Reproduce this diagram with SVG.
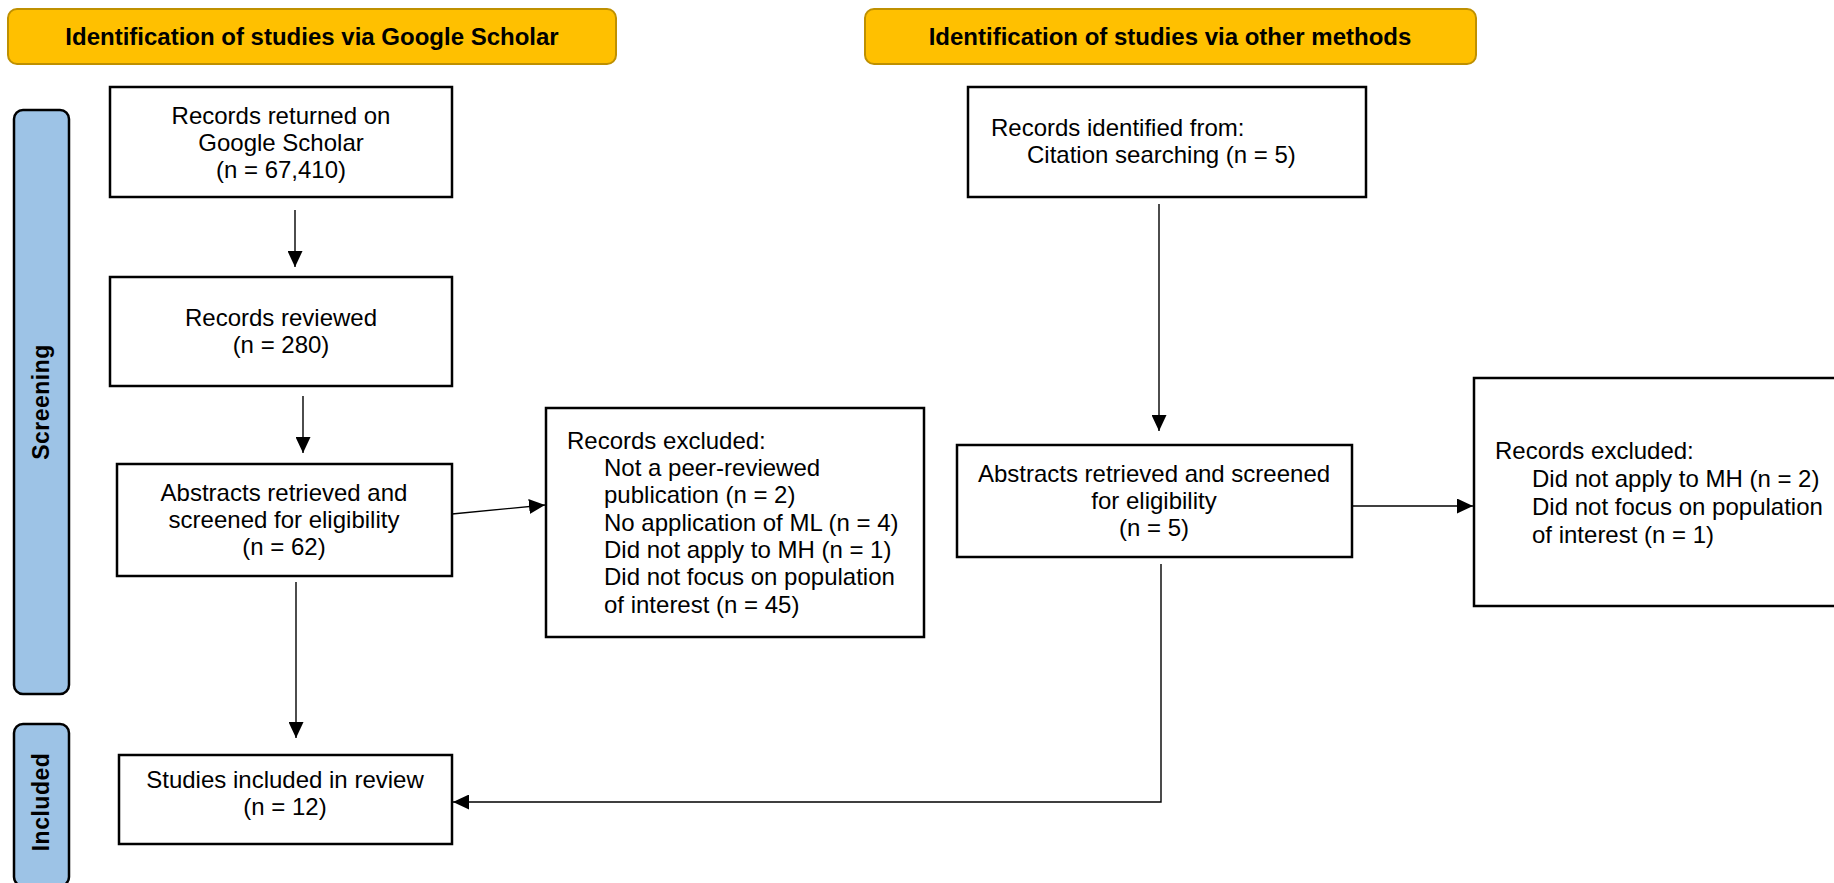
<svg xmlns="http://www.w3.org/2000/svg" width="1834" height="883" viewBox="0 0 1834 883">
<defs>
<marker id="ah" markerUnits="userSpaceOnUse" markerWidth="16" markerHeight="15" refX="16" refY="7.5" orient="auto">
<path d="M0,0 L16,7.5 L0,15 z" fill="#000"/>
</marker>
<style>
.hdr{fill:#FFC000;stroke:#BF9000;stroke-width:2}
.bar{fill:#9DC3E6;stroke:#000;stroke-width:2.5}
.box{fill:#fff;stroke:#000;stroke-width:2.5}
.ht{font-family:"Liberation Sans",Arial,sans-serif;font-size:24px;font-weight:bold;fill:#000;text-anchor:middle}
.bt{font-family:"Liberation Sans",Arial,sans-serif;font-size:23px;font-weight:bold;fill:#000;text-anchor:middle}
.t{font-family:"Liberation Sans",Arial,sans-serif;font-size:24px;fill:#000}
.c{text-anchor:middle}
.cn{fill:none;stroke:#000;stroke-width:1.4}
</style>
</defs>
<rect width="1834" height="883" fill="#fff"/>

<g id="header-google">
<rect class="hdr" x="8" y="9" width="608" height="55" rx="9"/>
<text class="ht" x="312" y="45">Identification of studies via Google Scholar</text>
</g>
<g id="header-other">
<rect class="hdr" x="865" y="9" width="611" height="55" rx="9"/>
<text class="ht" x="1170" y="45">Identification of studies via other methods</text>
</g>

<g id="bar-screening">
<rect class="bar" x="14" y="110" width="55" height="584" rx="9"/>
<text class="bt" transform="translate(49,402) rotate(-90)" letter-spacing="0.5">Screening</text>
</g>
<g id="bar-included">
<rect class="bar" x="14" y="724" width="55" height="162" rx="9"/>
<text class="bt" transform="translate(49,802) rotate(-90)" letter-spacing="0.5">Included</text>
</g>

<g id="box-returned">
<rect class="box" x="110" y="87" width="342" height="110"/>
<text class="t c" x="281" y="124">Records returned on</text>
<text class="t c" x="281" y="151">Google Scholar</text>
<text class="t c" x="281" y="178">(n = 67,410)</text>
</g>
<g id="box-reviewed">
<rect class="box" x="110" y="277" width="342" height="109"/>
<text class="t c" x="281" y="326">Records reviewed</text>
<text class="t c" x="281" y="353">(n = 280)</text>
</g>
<g id="box-abstracts-google">
<rect class="box" x="117" y="464" width="335" height="112"/>
<text class="t c" x="284" y="501">Abstracts retrieved and</text>
<text class="t c" x="284" y="528">screened for eligibility</text>
<text class="t c" x="284" y="555">(n = 62)</text>
</g>
<g id="box-excluded-google">
<rect class="box" x="546" y="408" width="378" height="229"/>
<text class="t" x="567" y="449">Records excluded:</text>
<text class="t" x="604" y="476">Not a peer-reviewed</text>
<text class="t" x="604" y="503">publication (n = 2)</text>
<text class="t" x="604" y="531">No application of ML (n = 4)</text>
<text class="t" x="604" y="558">Did not apply to MH (n = 1)</text>
<text class="t" x="604" y="585">Did not focus on population</text>
<text class="t" x="604" y="613">of interest (n = 45)</text>
</g>
<g id="box-included">
<rect class="box" x="119" y="755" width="333" height="89"/>
<text class="t c" x="285" y="788">Studies included in review</text>
<text class="t c" x="285" y="815">(n = 12)</text>
</g>
<g id="box-identified-other">
<rect class="box" x="968" y="87" width="398" height="110"/>
<text class="t" x="991" y="136">Records identified from:</text>
<text class="t" x="1027" y="163">Citation searching (n = 5)</text>
</g>
<g id="box-abstracts-other">
<rect class="box" x="957" y="445" width="395" height="112"/>
<text class="t c" x="1154" y="482">Abstracts retrieved and screened</text>
<text class="t c" x="1154" y="509">for eligibility</text>
<text class="t c" x="1154" y="536">(n = 5)</text>
</g>
<g id="box-excluded-other">
<rect class="box" x="1474" y="378" width="380" height="228"/>
<text class="t" x="1495" y="459">Records excluded:</text>
<text class="t" x="1532" y="487">Did not apply to MH (n = 2)</text>
<text class="t" x="1532" y="515">Did not focus on population</text>
<text class="t" x="1532" y="543">of interest (n = 1)</text>
</g>

<g id="connectors">
<line class="cn" x1="295" y1="210" x2="295" y2="267" marker-end="url(#ah)"/>
<line class="cn" x1="303" y1="396" x2="303" y2="453" marker-end="url(#ah)"/>
<line class="cn" x1="452" y1="514" x2="545" y2="505" marker-end="url(#ah)"/>
<line class="cn" x1="296" y1="582" x2="296" y2="738" marker-end="url(#ah)"/>
<line class="cn" x1="1159" y1="204" x2="1159" y2="431" marker-end="url(#ah)"/>
<line class="cn" x1="1352" y1="506" x2="1473" y2="506" marker-end="url(#ah)"/>
<polyline class="cn" points="1161,564 1161,802 453,802" marker-end="url(#ah)"/>
</g>
</svg>
